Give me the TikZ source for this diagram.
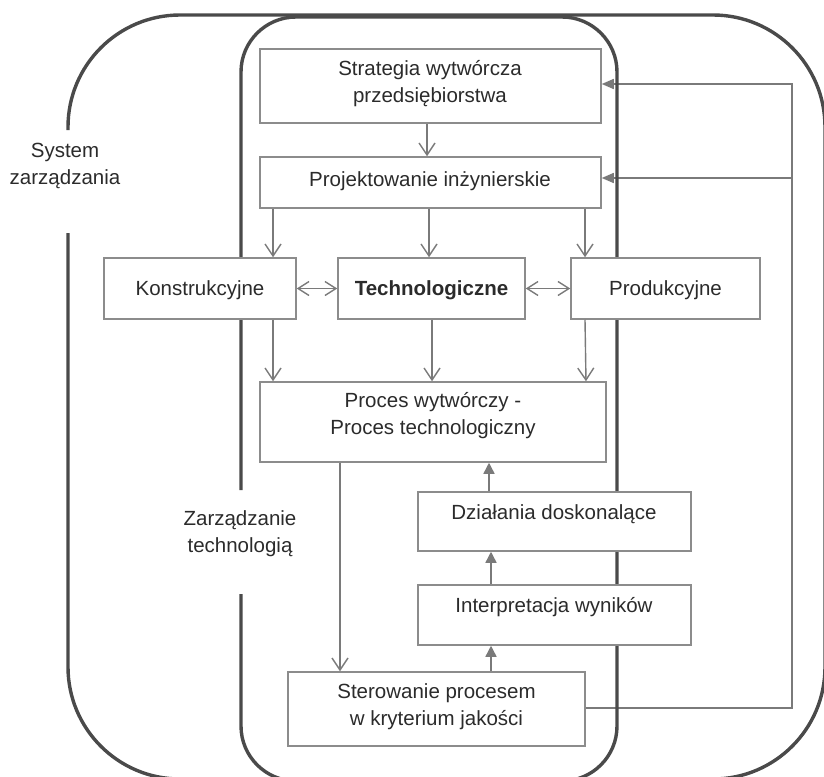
\documentclass[tikz,border=0pt]{standalone}
\usepackage{fontspec}
\setmainfont{Liberation Sans}
\usetikzlibrary{arrows.meta}
\definecolor{framegray}{HTML}{4A4A4A}
\definecolor{boxgray}{HTML}{8C8C8C}
\definecolor{arrowgray}{HTML}{7A7A7A}
\definecolor{textgray}{HTML}{2B2B2B}
\begin{document}
\begin{tikzpicture}[x=1pt,y=-1pt,
  frame/.style={draw=framegray, line width=3.4pt},
  box/.style={draw=boxgray, line width=1.5pt, fill=white, inner sep=0pt},
  txt/.style={text=textgray, font=\fontsize{20.5}{27}\selectfont, align=center, inner sep=0pt},
  flow/.style={draw=arrowgray, line width=1.4pt, -{Straight Barb[length=12pt,width=16pt]}},
  link/.style={draw=arrowgray, line width=1.4pt,
    {Straight Barb[length=11pt,width=14pt]}-{Straight Barb[length=11pt,width=14pt]}},
  rise/.style={draw=arrowgray, line width=1.4pt, -{Triangle[length=11pt,width=11pt]}},
  back/.style={draw=arrowgray, line width=1.4pt},
  backarr/.style={back, -{Triangle[length=12pt,width=10pt]}}
]
\useasboundingbox (0,0) rectangle (824,776);
\clip (0,0) rectangle (824,776);

% boxes
\node[box, minimum width=341pt, minimum height=74pt] (strat) at (430.5,86) {};
\node[box, minimum width=341pt, minimum height=51pt] (proj) at (430.5,182.5) {};
\node[box, minimum width=192pt, minimum height=61pt] (kon) at (200,288.5) {};
\node[box, minimum width=187pt, minimum height=61pt] (tech) at (431.5,288.5) {};
\node[box, minimum width=189pt, minimum height=61pt] (prod) at (665.5,288.5) {};
\node[box, minimum width=346pt, minimum height=80pt] (proc) at (433,422) {};
\node[box, minimum width=273pt, minimum height=59pt] (dzial) at (554.5,521.5) {};
\node[box, minimum width=273pt, minimum height=60pt] (interp) at (554.5,615) {};
\node[box, minimum width=297pt, minimum height=74pt] (ster) at (436.5,709) {};

% feedback loop on the right
\coordinate (fbtop) at (792,84);
\coordinate (fbmid) at (792,178);
\coordinate (fbbot) at (792,708);
\draw[backarr] (ster.east |- fbbot) -- (fbbot) -- (fbtop) -- (strat.east |- fbtop);
\draw[backarr] (fbmid) -- (proj.east |- fbmid);

% system frames
\draw[frame, rounded corners=112pt] (68,233) -- (68,779) -- (825,779) -- (825,15) -- (68,15) -- (68,130);
\draw[frame, rounded corners=55pt] (241,594) -- (241,781) -- (617,781) -- (617,17) -- (241,17) -- (241,490);

% boxes drawn again above the frames
\node[box, minimum width=341pt, minimum height=74pt] at (strat) {};
\node[box, minimum width=341pt, minimum height=51pt] at (proj) {};
\node[box, minimum width=192pt, minimum height=61pt] at (kon) {};
\node[box, minimum width=187pt, minimum height=61pt] at (tech) {};
\node[box, minimum width=189pt, minimum height=61pt] at (prod) {};
\node[box, minimum width=346pt, minimum height=80pt] at (proc) {};
\node[box, minimum width=273pt, minimum height=59pt] at (dzial) {};
\node[box, minimum width=273pt, minimum height=60pt] at (interp) {};
\node[box, minimum width=297pt, minimum height=74pt] at (ster) {};

% texts
\node[txt] (strat-t) at (430,84) {Strategia wytwórcza\\przedsiębiorstwa};
\node[txt] (proj-t) at (430,181) {Projektowanie inżynierskie};
\node[txt] (kon-t) at (200,290) {Konstrukcyjne};
\node[txt, font=\fontsize{20.5}{27}\selectfont\bfseries] (tech-t) at (431.5,290) {Technologiczne};
\node[txt] (prod-t) at (665.5,290) {Produkcyjne};
\node[txt] (proc-t) at (433,416) {Proces wytwórczy -\\Proces technologiczny};
\node[txt] (dzial-t) at (554,514) {Działania doskonalące};
\node[txt] (interp-t) at (554,607) {Interpretacja wyników};
\node[txt] (ster-t) at (436.5,707) {Sterowanie procesem\\w kryterium jakości};
\node[txt] (sys-t) at (65,166) {System\\zarządzania};
\node[txt] (zt-t) at (240,534) {Zarządzanie\\technologią};

% downward flow
\draw[flow] (strat.south -| 427,0) -- (proj.north -| 427,0);
\draw[flow] (proj.south -| 273,0) -- (kon.north -| 273,0);
\draw[flow] (proj.south -| 429,0) -- (tech.north -| 429,0);
\draw[flow] (proj.south -| 585,0) -- (prod.north -| 585,0);
\draw[link] (kon) -- (tech);
\draw[link] (tech) -- (prod);
\draw[flow] (kon.south -| 273,0) -- (proc.north -| 273,0);
\draw[flow] (tech.south -| 432,0) -- (proc.north -| 432,0);
\draw[flow] (prod.south -| 585,0) -- (proc.north -| 586,0);
\draw[flow] (proc.south -| 340,0) -- (ster.north -| 340,0);

% improvement loop
\draw[rise] (ster.north -| 491,0) -- (interp.south -| 491,0);
\draw[rise] (interp.north -| 491,0) -- (dzial.south -| 491,0);
\draw[rise] (dzial.north -| 489,0) -- (proc.south -| 489,0);
\end{tikzpicture}
\end{document}
